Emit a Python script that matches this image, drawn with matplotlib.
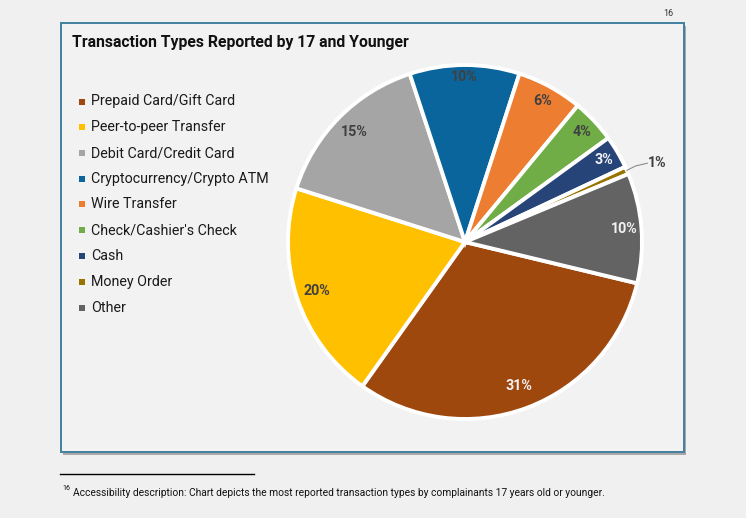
import matplotlib
matplotlib.use("Agg")
import matplotlib.pyplot as plt
from matplotlib.patches import Rectangle
from matplotlib.lines import Line2D
import numpy as np

categories = ["Prepaid Card/Gift Card", "Peer-to-peer Transfer", "Debit Card/Credit Card",
              "Cryptocurrency/Crypto ATM", "Wire Transfer", "Check/Cashier's Check",
              "Cash", "Money Order", "Other"]
values = [31, 20, 15, 10, 6, 4, 3, 0.7, 10]
pct_labels = ["31%", "20%", "15%", "10%", "6%", "4%", "3%", "1%", "10%"]
colors = ["#9E480E", "#FFC000", "#A5A5A5", "#0A659C", "#ED7D31", "#70AD47",
          "#264478", "#997300", "#636363"]
label_colors = ["#F2F2F2", "#404040", "#404040", "#404040", "#404040", "#404040",
                "#F2F2F2", "#404040", "#F2F2F2"]

W, H = 746, 518
fig = plt.figure(figsize=(W / 100, H / 100), dpi=100)
fig.patch.set_facecolor("#F0F0F0")

def fx(x):
    return x / W

def fy(y):
    return 1 - y / H

# box shadow and box
fig.patches.append(Rectangle((fx(63), fy(454.5)), fx(684 - 61), (452 - 23) / H,
                             transform=fig.transFigure, facecolor="#a8a8a8",
                             edgecolor="none", zorder=-2))
fig.patches.append(Rectangle((fx(61), fy(452)), fx(684 - 61), (452 - 23) / H,
                             transform=fig.transFigure, facecolor="#F2F2F2",
                             edgecolor="#41809F", linewidth=1.4, zorder=-1))

fig.text(fx(72), fy(42), "Transaction Types Reported by 17 and Younger",
         fontsize=11.3, fontweight="bold", family="Roboto", color="#111111",
         va="center", ha="left")

# legend
for i, (cat, col) in enumerate(zip(categories, colors)):
    yc = 101.5 + i * 25.75
    fig.patches.append(Rectangle((fx(79), fy(yc + 3)), fx(6), 6 / H,
                                 transform=fig.transFigure, facecolor=col,
                                 edgecolor="none", zorder=2))
    fig.text(fx(91), fy(yc), cat, fontsize=10.3, family="Roboto", color="#1a1a1a",
             va="center", ha="left")

# pie
cx, cy, R = 465, 242, 177
ax = fig.add_axes([fx(cx - R), (H - cy - R) / H, 2 * R / W, 2 * R / H])
ax.set_zorder(3)
wedges, _ = ax.pie(values, colors=colors, startangle=-13.5, counterclock=False,
                   radius=1, wedgeprops=dict(edgecolor="white", linewidth=2.8))
ax.set_xlim(-1, 1)
ax.set_ylim(-1, 1)
ax.set_aspect("equal")
ax.axis("off")

dists = [0.87, 0.88, 0.88, 0.93, 0.91, 0.91, 0.91, None, 0.9]
for w, lab, lc, d in zip(wedges, pct_labels, label_colors, dists):
    th = np.deg2rad((w.theta1 + w.theta2) / 2)
    if d is None:
        ex, ey = np.cos(th) * 1.0, np.sin(th) * 1.0
        ax.add_line(Line2D([ex, 1.01 * ex + 0.04, 1.03], [ey, ey + 0.025, 0.445],
                           color="#8c8c8c", linewidth=0.8, clip_on=False))
        ax.text(1.035, 0.445, lab, fontsize=10.3, fontweight="bold", family="Roboto",
                color=lc, ha="left", va="center", clip_on=False)
    else:
        ax.text(d * np.cos(th), d * np.sin(th), lab, fontsize=10.3, fontweight="bold",
                family="Roboto", color=lc, ha="center", va="center")

# footnote
fig.add_artist(Line2D([fx(60), fx(254)], [fy(474), fy(474)], color="black",
                      linewidth=1.0, transform=fig.transFigure))
fig.text(fx(62), fy(489), "16", fontsize=5, family="Roboto", color="#111111",
         va="center", ha="left")
fig.text(fx(73), fy(493),
         "Accessibility description: Chart depicts the most reported transaction types by complainants 17 years old or younger.",
         fontsize=7.4, family="Roboto", color="#111111", va="center", ha="left")
fig.text(fx(668), fy(13), "16", fontsize=6.5, family="Roboto", color="#333333",
         va="center", ha="center")

fig.savefig("out.png", dpi=100, facecolor=fig.get_facecolor())
